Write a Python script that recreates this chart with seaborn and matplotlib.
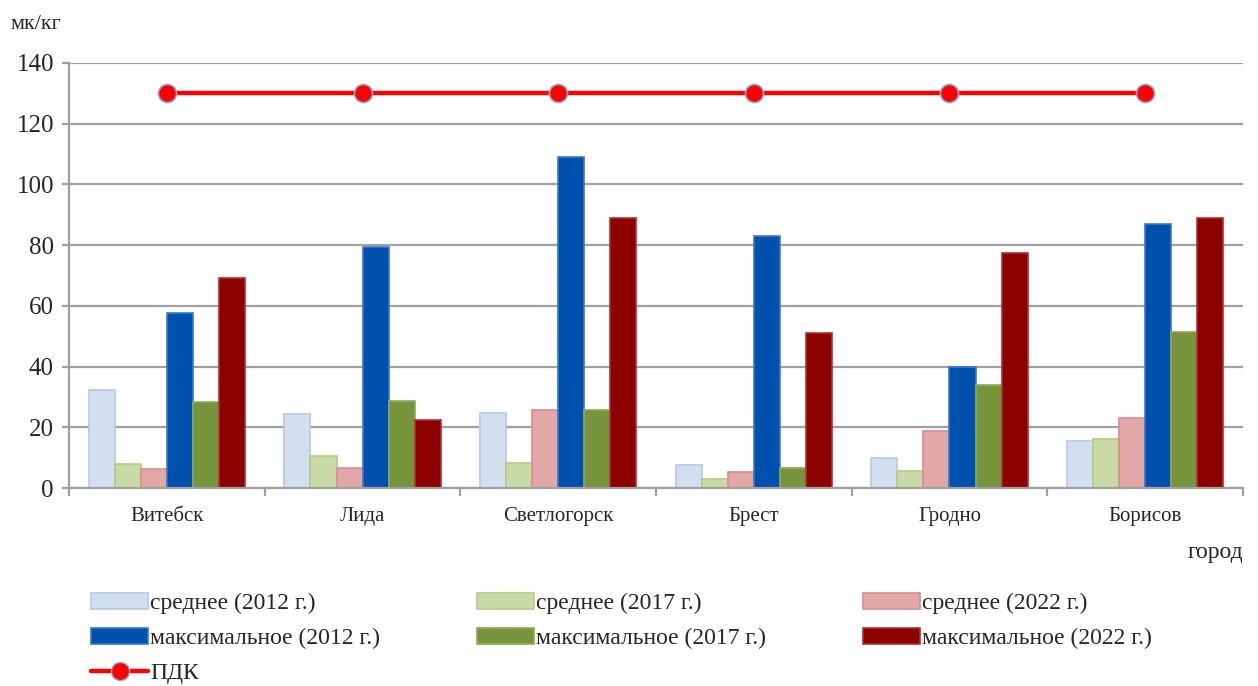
import pandas as pd
import matplotlib.pyplot as plt
import seaborn as sns
from matplotlib.lines import Line2D

cities = ['Витебск', 'Лида', 'Светлогорск', 'Брест', 'Гродно', 'Борисов']
series = ['среднее (2012 г.)', 'среднее (2017 г.)', 'среднее (2022 г.)',
          'максимальное (2012 г.)', 'максимальное (2017 г.)', 'максимальное (2022 г.)']

avg_2012 = [32.4, 24.5, 24.6, 7.6, 9.8, 15.5]
avg_2017 = [8.0, 10.6, 8.1, 2.9, 5.7, 16.1]
avg_2022 = [6.2, 6.7, 25.7, 5.3, 18.8, 23.1]
max_2012 = [57.5, 79.4, 108.9, 83.0, 39.9, 87.0]
max_2017 = [28.3, 28.8, 25.7, 6.7, 33.8, 51.3]
max_2022 = [69.1, 22.3, 88.9, 51.2, 77.5, 89.0]
pdk = [130, 130, 130, 130, 130, 130]

fill_colors = ['#D2DFEF', '#C9DAA6', '#E2A8A8', '#0050AE', '#77933C', '#8C0000']
edge_colors = ['#B4CAE6', '#B3CC84', '#D78E8E', '#3C78C8', '#8FAA58', '#B03030']

df = pd.DataFrame({'город': cities * 6,
                   'серия': [s for s in series for _ in cities],
                   'значение': avg_2012 + avg_2017 + avg_2022 + max_2012 + max_2017 + max_2022})

sns.set_style('white')
plt.rcParams['font.family'] = ['Liberation Serif', 'DejaVu Serif']

fig = plt.figure(figsize=(12.58, 6.86), dpi=100)
ax = fig.add_axes([0.055, 0.2886, 0.933, 0.6196])

sns.barplot(data=df, x='город', y='значение', hue='серия', hue_order=series,
            palette=fill_colors, saturation=1, width=0.8, ax=ax, legend=False)
for cont, ec in zip(ax.containers, edge_colors):
    for bar in cont:
        bar.set_edgecolor(ec)
        bar.set_linewidth(1.2)

# линия ПДК
ax.plot(range(len(cities)), pdk, color='#FF0000', lw=3.2, marker='o', markersize=13,
        markerfacecolor='#FF0000', markeredgecolor='#8EA9D0', markeredgewidth=1.2, zorder=5)

ax.set_xlim(-0.5, 5.5)
ax.set_ylim(0, 140)
ax.set_yticks(range(0, 141, 20))
ax.yaxis.grid(True, color='#A0A0A0', lw=1.6)
ax.set_axisbelow(True)
for s in ['top', 'right']:
    ax.spines[s].set_visible(False)
for s in ['left', 'bottom']:
    ax.spines[s].set_color('#A0A0A0')
    ax.spines[s].set_linewidth(1.6)
ax.tick_params(axis='y', labelsize=18, length=5, width=1.6, color='#A0A0A0', left=True, pad=6)
ax.set_xticks([i + 0.5 for i in range(-1, 6)], minor=True)
ax.tick_params(axis='x', which='major', length=0, labelsize=15, pad=14)
ax.tick_params(axis='x', which='minor', length=6, width=1.6, color='#A0A0A0', bottom=True)
ax.set_xlabel('')
ax.set_ylabel('')

fig.text(0.008, 0.965, 'мк/кг', fontsize=16, ha='left', va='center')
fig.text(0.988, 0.195, 'город', fontsize=17, ha='right', va='center')

# легенда: порядок под заполнение по столбцам
patches = [plt.Rectangle((0, 0), 1, 1, facecolor=f, edgecolor=e, lw=1.2)
           for f, e in zip(fill_colors, edge_colors)]
pdk_handle = Line2D([], [], color='#FF0000', lw=3.2, marker='o', markersize=13,
                    markerfacecolor='#FF0000', markeredgecolor='#8EA9D0')
handles = [patches[0], patches[3], pdk_handle, patches[1], patches[4], patches[2], patches[5]]
labels = [series[0], series[3], 'ПДК', series[1], series[4], series[2], series[5]]
fig.legend(handles, labels, loc='upper left', bbox_to_anchor=(0.0632, 0.153), ncol=3,
           frameon=False, fontsize=17, handlelength=2.4, handleheight=0.7,
           handletextpad=0.1, columnspacing=4.1, labelspacing=0.57, borderpad=0)

fig.savefig('out.png', dpi=100)
